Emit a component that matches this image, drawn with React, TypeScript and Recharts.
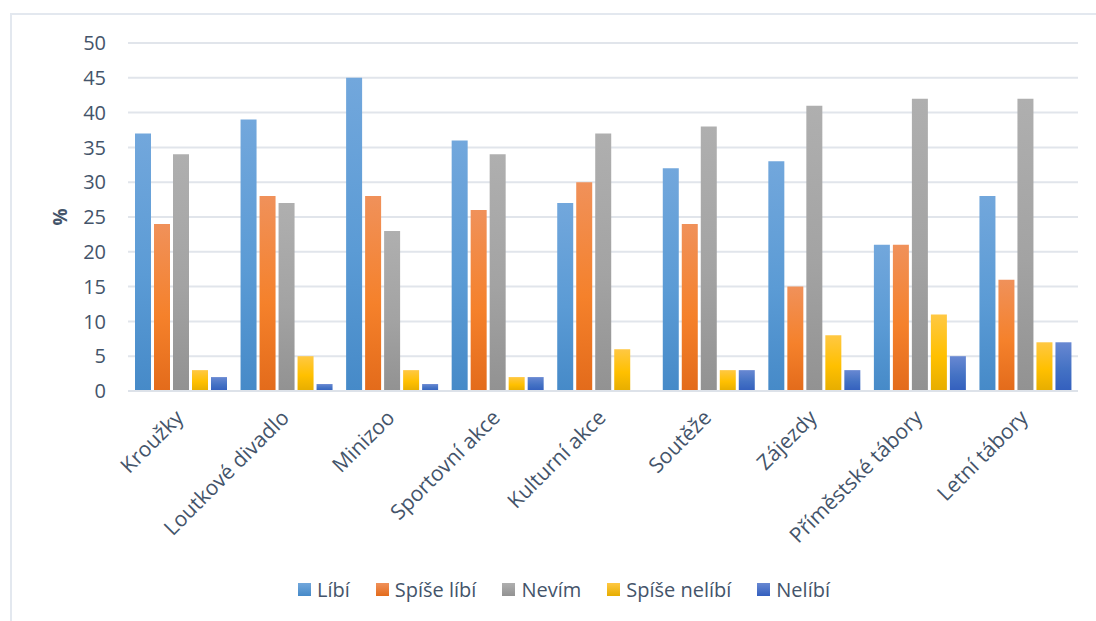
import { BarChart, Bar, XAxis, YAxis, CartesianGrid, Legend } from 'recharts'

const categories = [
  'Kroužky',
  'Loutkové divadlo',
  'Minizoo',
  'Sportovní akce',
  'Kulturní akce',
  'Soutěže',
  'Zájezdy',
  'Příměstské tábory',
  'Letní tábory'
];

const libi = [37, 39, 45, 36, 27, 32, 33, 21, 28];
const spiseLibi = [24, 28, 28, 26, 30, 24, 15, 21, 16];
const nevim = [34, 27, 23, 34, 37, 38, 41, 42, 42];
const spiseNelibi = [3, 5, 3, 2, 6, 3, 8, 11, 7];
const nelibi = [2, 1, 1, 2, 0, 3, 3, 5, 7];

const yTicks = [0, 5, 10, 15, 20, 25, 30, 35, 40, 45, 50];

const series = [
  { key: 'libi', name: 'Líbí', top: '#72a7dc', mid: '#5b9bd5', bottom: '#468ac8' },
  { key: 'spiseLibi', name: 'Spíše líbí', top: '#f0915a', mid: '#f5812b', bottom: '#e36b1b' },
  { key: 'nevim', name: 'Nevím', top: '#afafaf', mid: '#a3a3a3', bottom: '#929292' },
  { key: 'spiseNelibi', name: 'Spíše nelíbí', top: '#ffc843', mid: '#ffc000', bottom: '#e6ad00' },
  { key: 'nelibi', name: 'Nelíbí', top: '#6888d2', mid: '#4472c4', bottom: '#335fbe' }
];

const data = categories.map((name, i) => ({
  name,
  libi: libi[i],
  spiseLibi: spiseLibi[i],
  nevim: nevim[i],
  spiseNelibi: spiseNelibi[i],
  nelibi: nelibi[i]
}));

const textColor = '#44546a';
const font = '"Open Sans", sans-serif';

function CategoryTick({ x, y, payload }: any) {
  const tx = x + 4;
  const ty = y + 20;
  return (
    <text
      x={tx}
      y={ty}
      transform={`rotate(-45, ${tx}, ${ty})`}
      textAnchor="end"
      fill={textColor}
      fontSize={21}
      fontFamily={font}
    >
      {payload.value}
    </text>
  );
}

function PercentLabel({ viewBox }: any) {
  const cx = 60;
  const cy = viewBox.y + viewBox.height / 2;
  return (
    <text
      x={cx}
      y={cy}
      transform={`rotate(-90, ${cx}, ${cy})`}
      textAnchor="middle"
      dominantBaseline="central"
      fill={textColor}
      fontSize={19}
      fontWeight="bold"
      fontFamily={font}
    >
      %
    </text>
  );
}

function renderLegend() {
  return (
    <div style={{ display: 'flex', justifyContent: 'center', gap: 26, fontFamily: font, fontSize: 20, color: textColor, paddingLeft: 50 }}>
      {series.map((s) => (
        <div key={s.key} style={{ display: 'flex', alignItems: 'center' }}>
          <span style={{ display: 'inline-block', width: 13, height: 13, marginRight: 6, background: `linear-gradient(${s.top}, ${s.bottom})` }} />
          <span>{s.name}</span>
        </div>
      ))}
    </div>
  );
}

export default function App() {
  return (
    <div style={{ position: 'absolute', left: 0, top: 0, width: 1096, height: 621, background: '#fff', overflow: 'hidden' }}>
      <div style={{ position: 'absolute', left: 10, top: 13, width: 1100, height: 640, border: '2px solid #e3e8ef', boxSizing: 'border-box' }} />
      <BarChart
        width={1096}
        height={621}
        data={data}
        margin={{ top: 43, right: 18, left: 0, bottom: 15 }}
        barCategoryGap={7}
        barGap={3}
      >
        <defs>
          {series.map((s) => (
            <linearGradient key={s.key} id={`grad-${s.key}`} x1="0" y1="0" x2="0" y2="1">
              <stop offset="0%" stopColor={s.top} />
              <stop offset="55%" stopColor={s.mid} />
              <stop offset="100%" stopColor={s.bottom} />
            </linearGradient>
          ))}
        </defs>
        <CartesianGrid vertical={false} stroke="#e1e5eb" strokeWidth={2} />
        <XAxis
          dataKey="name"
          interval={0}
          tick={<CategoryTick />}
          tickLine={false}
          axisLine={{ stroke: '#dde2e9', strokeWidth: 2 }}
          height={185}
        />
        <YAxis
          domain={[0, 50]}
          ticks={yTicks}
          width={128}
          tickLine={false}
          axisLine={false}
          tickSize={0}
          tickMargin={22}
          tick={{ fill: textColor, fontSize: 20, fontFamily: font }}
          label={<PercentLabel />}
        />
        <Legend verticalAlign="bottom" height={30} content={renderLegend} />
        {series.map((s) => (
          <Bar
            key={s.key}
            dataKey={s.key}
            name={s.name}
            fill={`url(#grad-${s.key})`}
            isAnimationActive={false}
          />
        ))}
      </BarChart>
    </div>
  );
}
